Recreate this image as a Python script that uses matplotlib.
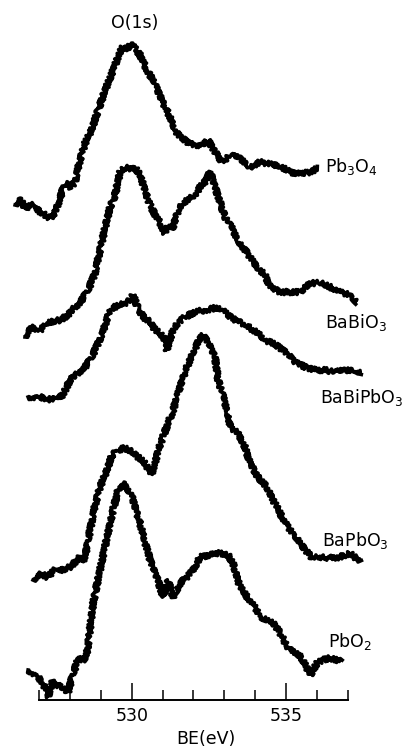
import numpy as np
import matplotlib.pyplot as plt
from matplotlib.ticker import MultipleLocator, FixedLocator

plt.rcParams['font.family'] = ['DejaVu Sans']
plt.rcParams['mathtext.default'] = 'regular'

# binding energy (eV) and intensity (arb. units, traces already offset as in the figure)
be_pb3o4 = [526.22, 526.38, 526.54, 526.80, 527.03, 527.35, 527.51, 527.68, 527.84, 528.00,
            528.16, 528.32, 528.49, 528.71, 528.91, 529.14, 529.36, 529.56, 529.69, 529.85,
            529.98, 530.14, 530.27, 530.43, 530.59, 530.76, 530.92, 531.08, 531.24, 531.40,
            531.57, 531.89, 532.21, 532.47, 532.70, 532.93, 533.19, 533.51, 533.83, 534.16,
            534.48, 534.81, 535.13, 535.45, 535.78, 536.04]
i_pb3o4 = [547, 554, 544, 547, 540, 534, 539, 554, 570, 564,
           570, 592, 609, 623, 642, 662, 679, 695, 705, 702,
           709, 702, 697, 686, 677, 667, 656, 645, 635, 622,
           615, 608, 605, 612, 600, 590, 597, 594, 585, 590,
           588, 586, 580, 578, 580, 584]

be_babio3 = [526.54, 526.70, 527.03, 527.35, 527.68, 527.94, 528.16, 528.32, 528.59, 528.81,
             528.97, 529.14, 529.30, 529.46, 529.62, 529.78, 529.94, 530.11, 530.27, 530.43,
             530.59, 530.76, 530.92, 531.08, 531.18, 531.31, 531.47, 531.66, 531.89, 532.05,
             532.21, 532.38, 532.54, 532.70, 532.86, 533.02, 533.25, 533.44, 533.67, 533.90,
             534.09, 534.32, 534.48, 534.81, 535.13, 535.45, 535.78, 536.10, 536.43, 536.75,
             537.07, 537.30]
i_babio3 = [415, 425, 422, 430, 432, 437, 445, 449, 462, 479,
            502, 525, 545, 557, 580, 585, 582, 584, 577, 562,
            547, 537, 529, 519, 527, 522, 539, 549, 554, 557,
            565, 570, 580, 565, 550, 535, 524, 512, 502, 492,
            484, 477, 465, 460, 460, 460, 469, 469, 465, 460,
            457, 449]

be_babipbo3 = [526.64, 527.03, 527.45, 527.77, 528.00, 528.26, 528.49, 528.71, 528.91, 529.07,
               529.20, 529.36, 529.62, 529.88, 530.04, 530.20, 530.37, 530.59, 530.76, 530.92,
               531.08, 531.14, 531.31, 531.50, 531.73, 532.05, 532.38, 532.70, 532.93, 533.12,
               533.35, 533.58, 533.83, 534.09, 534.32, 534.55, 534.81, 535.07, 535.29, 535.62,
               535.94, 536.27, 536.59, 536.91, 537.23, 537.46]
i_babipbo3 = [355, 355, 352, 357, 372, 379, 385, 395, 409, 420,
              434, 444, 447, 450, 457, 444, 435, 430, 422, 419,
              412, 402, 420, 430, 435, 440, 442, 444, 442, 437,
              432, 429, 424, 419, 412, 409, 404, 397, 390, 385,
              382, 382, 380, 382, 382, 379]

be_bapbo3 = [526.80, 527.03, 527.26, 527.51, 527.74, 528.00, 528.23, 528.32, 528.42, 528.55,
             528.65, 528.81, 528.97, 529.20, 529.36, 529.56, 529.78, 530.01, 530.20, 530.43,
             530.63, 530.76, 530.85, 531.01, 531.18, 531.34, 531.47, 531.63, 531.79, 531.99,
             532.15, 532.31, 532.47, 532.70, 532.80, 532.93, 533.12, 533.19, 533.44, 533.67,
             533.83, 534.09, 534.38, 534.58, 534.87, 535.13, 535.39, 535.62, 535.85, 536.10,
             536.43, 536.75, 537.07, 537.40]
i_bapbo3 = [172, 179, 175, 182, 182, 185, 192, 195, 190, 204,
            222, 247, 265, 282, 297, 302, 304, 300, 295, 289,
            277, 289, 302, 315, 329, 342, 355, 372, 385, 400,
            410, 417, 409, 395, 372, 359, 339, 325, 319, 305,
            289, 275, 265, 252, 235, 222, 212, 202, 194, 195,
            194, 195, 199, 190]

be_pbo2 = [526.64, 526.80, 526.96, 527.13, 527.29, 527.42, 527.58, 527.77, 527.94, 528.07,
           528.23, 528.39, 528.52, 528.65, 528.75, 528.97, 529.20, 529.39, 529.56, 529.69,
           529.85, 530.01, 530.17, 530.33, 530.50, 530.66, 530.85, 531.01, 531.18, 531.34,
           531.57, 531.79, 532.05, 532.21, 532.54, 532.86, 533.12, 533.28, 533.51, 533.74,
           533.99, 534.16, 534.38, 534.58, 534.81, 534.97, 535.13, 535.36, 535.55, 535.78,
           536.01, 536.20, 536.43, 536.66, 536.82]
i_pbo2 = [82, 79, 75, 69, 55, 70, 67, 64, 60, 75,
          90, 95, 92, 124, 149, 182, 215, 242, 262, 270,
          262, 255, 239, 222, 202, 185, 172, 155, 172, 155,
          169, 175, 185, 195, 197, 199, 197, 189, 165, 155,
          145, 135, 132, 129, 119, 109, 102, 99, 92, 77,
          89, 92, 94, 92, 92]

names = [r'Pb$_3$O$_4$', r'BaBiO$_3$', r'BaBiPbO$_3$', r'BaPbO$_3$', r'PbO$_2$']
series = [(be_pb3o4, i_pb3o4), (be_babio3, i_babio3), (be_babipbo3, i_babipbo3),
          (be_bapbo3, i_bapbo3), (be_pbo2, i_pbo2)]
name_xy = [(536.27, 580), (536.27, 424), (536.10, 349), (536.17, 206), (536.36, 105)]

fig = plt.figure(figsize=(4.11, 7.52), dpi=100)
ax = fig.add_axes([0, 0, 1, 1])

for (be, inten), name, (tx, ty) in zip(series, names, name_xy):
    line, = ax.plot(be, inten, color='black', linewidth=2.6, solid_joinstyle='round')
    # jagged look of the noisy recorder trace
    line.set_sketch_params(2.6, 2.2, 2.0)
    ax.text(tx, ty, name, fontsize=12.5, ha='left', va='baseline')

ax.text(530.11, 724, 'O(1s)', fontsize=12.5, ha='center', va='baseline')

ax.set_xlim(525.73, 539.05)
ax.set_ylim(0, 752)

for s in ['top', 'left', 'right']:
    ax.spines[s].set_visible(False)
ax.spines['bottom'].set_position(('data', 52))
ax.spines['bottom'].set_bounds(527, 537)
ax.spines['bottom'].set_linewidth(1.4)
ax.patch.set_visible(False)

ax.xaxis.set_major_locator(FixedLocator([530, 535]))
ax.xaxis.set_minor_locator(FixedLocator([527, 528, 529, 531, 532, 533, 534, 536, 537]))
ax.tick_params(axis='x', which='major', direction='in', length=12, width=1.1,
               labelsize=12.5, pad=5)
ax.tick_params(axis='x', which='minor', direction='in', length=7, width=1.1)
ax.yaxis.set_visible(False)
ax.set_xlabel('BE(eV)', fontsize=12.5, labelpad=4)

fig.savefig('out.png', dpi=100)
